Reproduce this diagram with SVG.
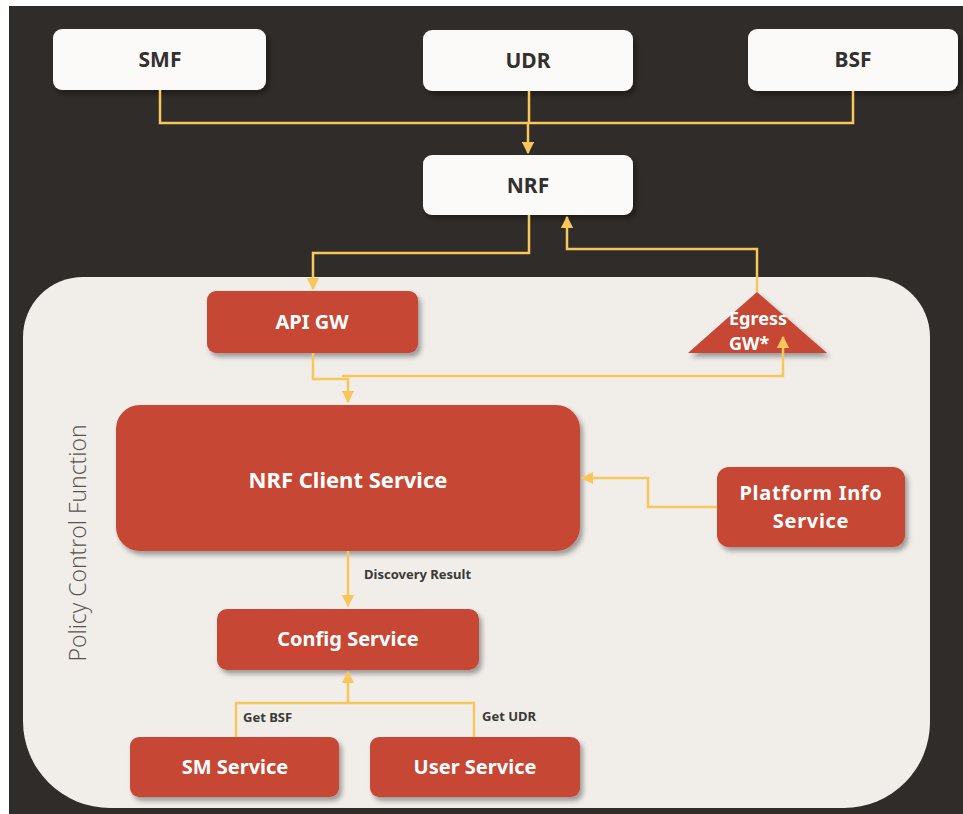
<svg xmlns="http://www.w3.org/2000/svg" width="963" height="814" viewBox="0 0 963 814">
  <style>
    .white-box { fill: #fbfaf8; }
    .red-box { fill: #c74634; }
    .dark-label { font-family: "Noto Sans", "Open Sans", "Liberation Sans", sans-serif; font-weight: bold; font-size: 21px; fill: #33302d; text-anchor: middle; }
    .red-label { font-family: "Noto Sans", "Open Sans", "Liberation Sans", sans-serif; font-weight: bold; font-size: 20px; fill: #ffffff; text-anchor: middle; }
    .edge-label { font-family: "Noto Sans", "Open Sans", "Liberation Sans", sans-serif; font-weight: bold; font-size: 13px; fill: #3b3835; }
    .wire { fill: none; stroke: #f8c75c; stroke-width: 2.5; }
    .title { font-family: "Open Sans", "Noto Sans", "Liberation Sans", sans-serif; font-weight: 300; font-size: 23px; fill: #57524e; }
  </style>
  <defs>
    <filter id="shadow" x="-10%" y="-10%" width="130%" height="140%">
      <feDropShadow dx="3" dy="4" stdDeviation="2.5" flood-color="#000000" flood-opacity="0.35"/>
    </filter>
    <marker id="arrow" viewBox="0 0 10 10" refX="9" refY="5" markerWidth="5" markerHeight="5" orient="auto" markerUnits="strokeWidth">
      <path d="M0,0 L10,5 L0,10 z" fill="#f8c75c"/>
    </marker>
  </defs>

  <!-- backdrop -->
  <rect x="0" y="0" width="963" height="814" fill="#ffffff"/>
  <rect x="9" y="6" width="954" height="808" fill="#302c29"/>
  <path d="M83,277 H870 A60,60 0 0 1 930,337 V722 A86,86 0 0 1 844,808 H110 A87,87 0 0 1 23,721 V337 A60,60 0 0 1 83,277 Z" fill="#f1eeea"/>

  <text class="title" transform="translate(86,543) rotate(-90)" text-anchor="middle">Policy Control Function</text>

  <!-- network functions outside the PCF -->
  <g id="smf">
    <rect class="white-box" x="53" y="29" width="213" height="61" rx="9" filter="url(#shadow)"/>
    <text class="dark-label" x="160" y="67">SMF</text>
  </g>
  <g id="udr">
    <rect class="white-box" x="423" y="30" width="210" height="61" rx="9" filter="url(#shadow)"/>
    <text class="dark-label" x="528" y="68">UDR</text>
  </g>
  <g id="bsf">
    <rect class="white-box" x="748" y="29" width="210" height="62" rx="9" filter="url(#shadow)"/>
    <text class="dark-label" x="853" y="67">BSF</text>
  </g>
  <g id="nrf">
    <rect class="white-box" x="423" y="155" width="210" height="60" rx="9" filter="url(#shadow)"/>
    <text class="dark-label" x="528" y="193">NRF</text>
  </g>

  <!-- PCF services -->
  <g id="api-gw">
    <rect class="red-box" x="207" y="291" width="211" height="62" rx="9" filter="url(#shadow)"/>
    <text class="red-label" x="312" y="329">API GW</text>
  </g>
  <g id="egress-gw">
    <polygon class="red-box" points="757,292 827,353 688,353" filter="url(#shadow)"/>
    <text class="red-label" x="729" y="325" style="text-anchor:start; font-size:18px">Egress</text>
    <text class="red-label" x="729" y="350" style="text-anchor:start; font-size:18px">GW*</text>
  </g>
  <g id="nrf-client-service">
    <rect class="red-box" x="116" y="405" width="464" height="146" rx="24" filter="url(#shadow)"/>
    <text class="red-label" x="348" y="488" style="font-size:22px">NRF Client Service</text>
  </g>
  <g id="platform-info-service">
    <rect class="red-box" x="717" y="467" width="188" height="80" rx="12" filter="url(#shadow)"/>
    <text class="red-label" x="811" y="500" style="letter-spacing:0.7px">Platform Info</text>
    <text class="red-label" x="811" y="528" style="letter-spacing:0.7px">Service</text>
  </g>
  <g id="config-service">
    <rect class="red-box" x="217" y="609" width="262" height="61" rx="10" filter="url(#shadow)"/>
    <text class="red-label" x="348" y="646">Config Service</text>
    <path d="M278,651 q1.5,-2.2 3,0 t3,0 t3,0 t3,0 t3,0 t3,0 t3,0 t3,0 t3,0 t3,0 t3,0 t3,0 t3,0 t3,0 t3,0" fill="none" stroke="#ea3a2e" stroke-width="1.2"/>
  </g>
  <g id="sm-service">
    <rect class="red-box" x="130" y="737" width="209" height="60" rx="9" filter="url(#shadow)"/>
    <text class="red-label" x="235" y="774">SM Service</text>
  </g>
  <g id="user-service">
    <rect class="red-box" x="370" y="737" width="210" height="60" rx="9" filter="url(#shadow)"/>
    <text class="red-label" x="475" y="774">User Service</text>
  </g>

  <!-- connectors -->
  <g id="connectors">
    <path class="wire" d="M160,90 V123 H853 V91"/>
    <path class="wire" d="M529,91 V123"/>
    <path class="wire" d="M528,123 V153" marker-end="url(#arrow)"/>
    <path class="wire" d="M529,215 V253 H313 V289" marker-end="url(#arrow)"/>
    <path class="wire" d="M757,292 V249 H567 V217" marker-end="url(#arrow)"/>
    <path class="wire" d="M313,353 V379 H348 V402" marker-end="url(#arrow)"/>
    <path class="wire" d="M342,376 H783 V337" marker-end="url(#arrow)"/>
    <path class="wire" d="M717,507 H648 V478 H582" marker-end="url(#arrow)"/>
    <path class="wire" d="M348,551 V606" marker-end="url(#arrow)"/>
    <path class="wire" d="M236,737 V703 H474 V737"/>
    <path class="wire" d="M348,703 V672" marker-end="url(#arrow)"/>
    <text class="edge-label" x="364" y="579">Discovery Result</text>
    <text class="edge-label" x="243" y="722">Get BSF</text>
    <text class="edge-label" x="482" y="721">Get UDR</text>
  </g>
</svg>
